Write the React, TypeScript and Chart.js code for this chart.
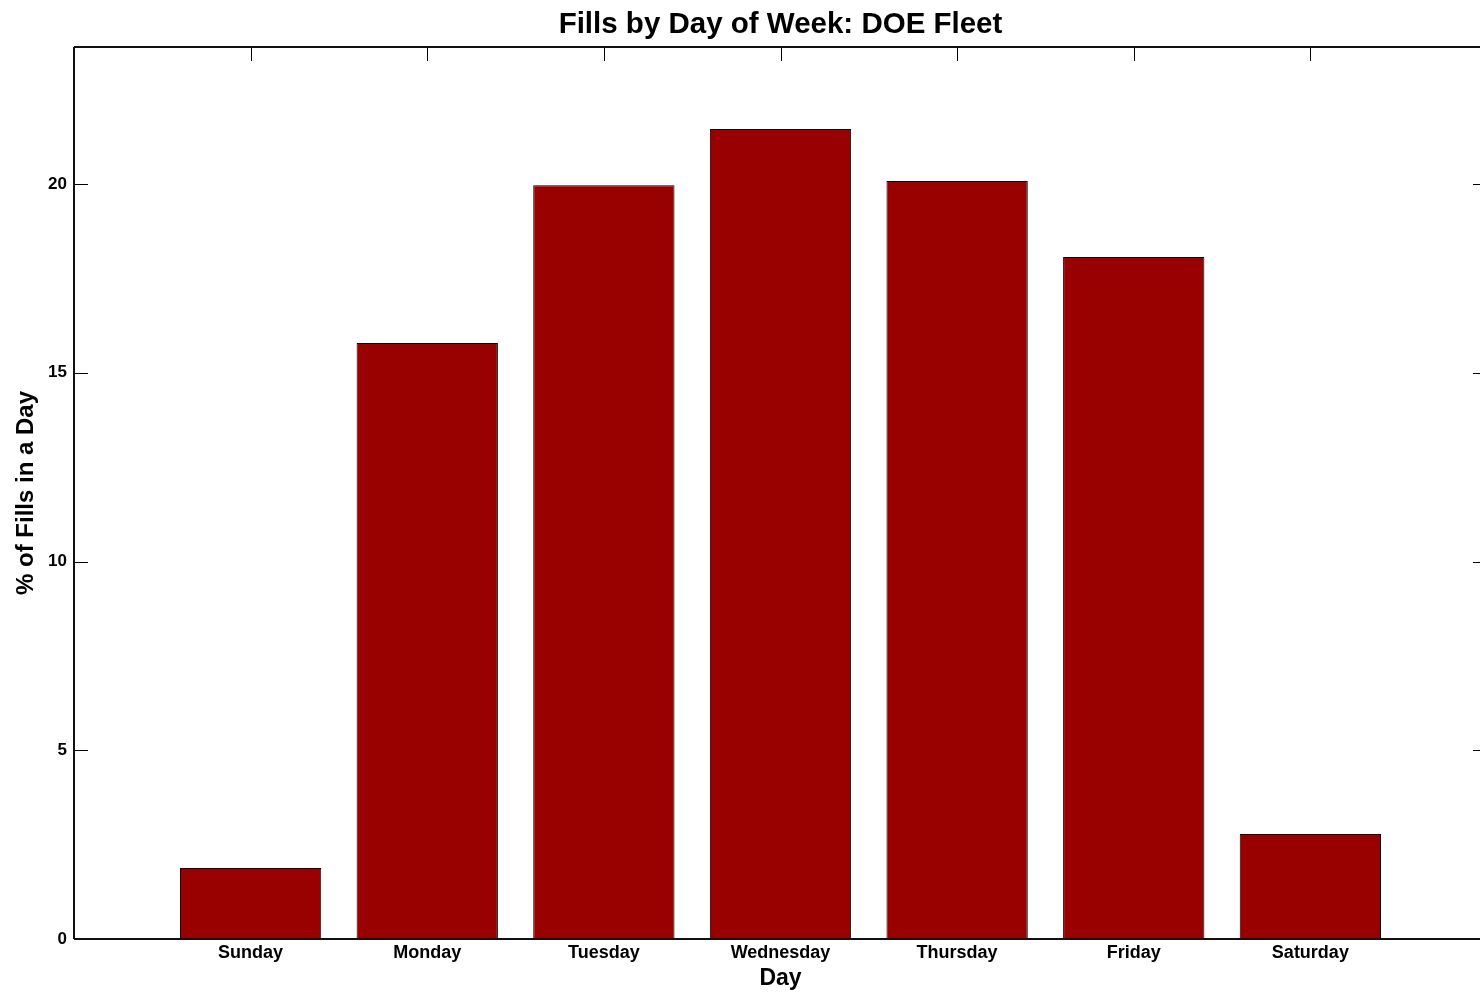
import React, { useEffect, useRef } from "react";
import { Chart, registerables } from "chart.js";

Chart.register(...registerables);

const days = ["Sunday", "Monday", "Tuesday", "Wednesday", "Thursday", "Friday", "Saturday"];
const fillPercent = [1.88, 15.79, 19.97, 21.46, 20.08, 18.07, 2.78];
const yTickStep = 5;
const yMax = 23.63;
const titleText = "Fills by Day of Week: DOE Fleet";
const xTitle = "Day";
const yTitle = "% of Fills in a Day";

const FONT = '"Liberation Sans", Arial, Helvetica, sans-serif';

const axesPlugin = {
  id: "matlabAxes",
  beforeDatasetsDraw(chart: any) {
    const { ctx, chartArea, scales } = chart;
    const { left, right, top, bottom } = chartArea;
    const x = scales.x;
    const y = scales.y;
    ctx.save();
    ctx.strokeStyle = "#000";
    ctx.lineWidth = 1;
    const line = (x1: number, y1: number, x2: number, y2: number) => {
      ctx.beginPath();
      ctx.moveTo(x1, y1);
      ctx.lineTo(x2, y2);
      ctx.stroke();
    };
    y.ticks.forEach((t: any) => {
      const py = Math.round(y.getPixelForValue(t.value)) + 0.5;
      line(left, py, left + 14, py);
      line(right - 14, py, right, py);
    });
    for (let i = 1; i <= days.length; i++) {
      const px = Math.round(x.getPixelForTick(i)) + 0.5;
      line(px, top, px, top + 14);
      line(px, bottom, px, bottom - 14);
    }
    ctx.restore();
  },
  afterDatasetsDraw(chart: any) {
    const { ctx, chartArea } = chart;
    const { left, right, top, bottom } = chartArea;
    ctx.save();
    ctx.strokeStyle = "#111";
    ctx.lineWidth = 2;
    ctx.beginPath();
    ctx.moveTo(left, top);
    ctx.lineTo(right, top);
    ctx.moveTo(left, bottom);
    ctx.lineTo(right, bottom);
    ctx.moveTo(left, top);
    ctx.lineTo(left, bottom);
    ctx.moveTo(right, top);
    ctx.lineTo(right, bottom);
    ctx.stroke();
    ctx.restore();
  },
};

export default function App() {
  const ref = useRef<HTMLCanvasElement | null>(null);

  useEffect(() => {
    if (!ref.current) return;
    const labels = ["", ...days, ""];
    const data = [null, ...fillPercent, null];
    const chart = new Chart(ref.current, {
      type: "bar",
      data: {
        labels,
        datasets: [
          {
            data,
            backgroundColor: "#990000",
            borderColor: "#000000",
            borderWidth: 1,
            barPercentage: 0.8,
            categoryPercentage: 1,
          },
        ],
      },
      options: {
        responsive: false,
        animation: false,
        layout: { padding: { left: 0, right: 4, top: 0, bottom: 0 } },
        plugins: {
          legend: { display: false },
          tooltip: { enabled: false },
          title: {
            display: true,
            text: titleText,
            fullSize: false,
            color: "#000",
            font: { family: FONT, size: 29.5, weight: "bold" },
            padding: { top: 7, bottom: 4.6 },
          },
        },
        scales: {
          x: {
            type: "category",
            offset: false,
            grid: { display: false, drawTicks: false },
            border: { display: false },
            ticks: {
              color: "#000",
              font: { family: FONT, size: 18, weight: "bold" },
              padding: 3,
              maxRotation: 0,
              autoSkip: false,
            },
            title: {
              display: true,
              text: xTitle,
              color: "#000",
              font: { family: FONT, size: 23, weight: "bold" },
              padding: { top: 0, bottom: 0 },
            },
            afterFit(scale: any) {
              scale.height = 53;
            },
          },
          y: {
            min: 0,
            max: yMax,
            grid: { display: false, drawTicks: false },
            border: { display: false },
            ticks: {
              stepSize: yTickStep,
              includeBounds: false,
              color: "#000",
              font: { family: FONT, size: 17, weight: "bold" },
              padding: 7,
            },
            title: {
              display: true,
              text: yTitle,
              color: "#000",
              font: { family: FONT, size: 24, weight: "bold" },
              padding: { top: 12, bottom: 0 },
            },
            afterFit(scale: any) {
              scale.width = 74;
            },
          },
        },
      },
      plugins: [axesPlugin],
    });
    return () => chart.destroy();
  }, []);

  return (
    <div
      style={{
        position: "fixed",
        left: 0,
        top: 0,
        width: 1480,
        height: 992,
        overflow: "hidden",
        background: "#fff",
      }}
    >
      <canvas ref={ref} width={1491} height={992} style={{ width: 1491, height: 992, display: "block" }} />
    </div>
  );
}
